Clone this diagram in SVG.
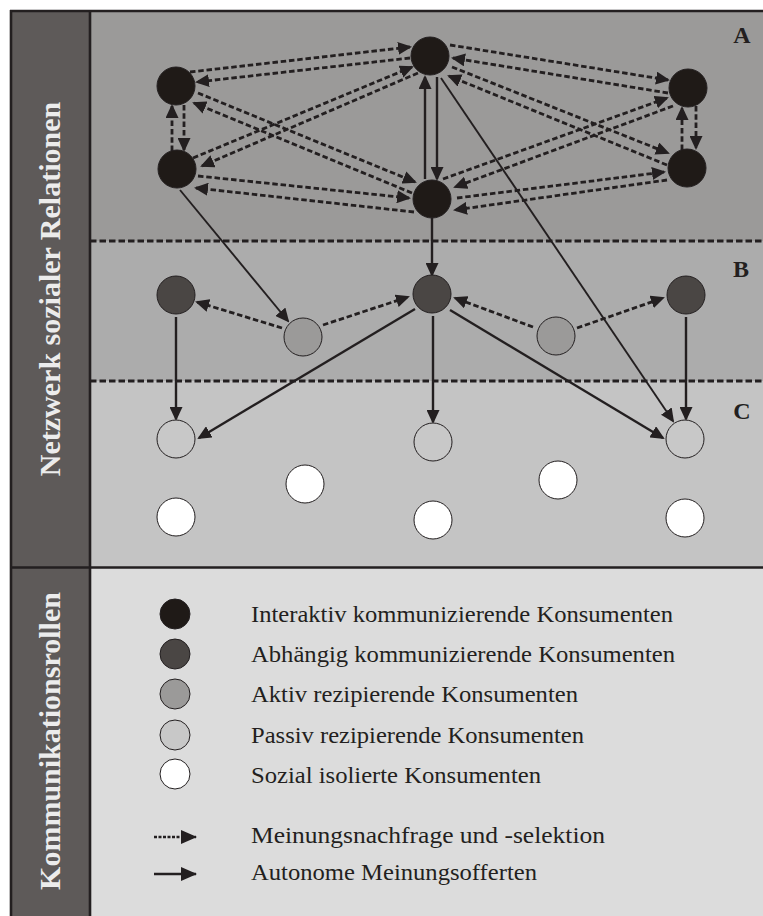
<svg xmlns="http://www.w3.org/2000/svg" width="763" height="916" viewBox="0 0 763 916">
  <style>
    .dash { fill: none; stroke: #231f20; stroke-width: 2.8; stroke-dasharray: 5.5 2.8; marker-end: url(#head); }
    .solid { fill: none; stroke: #231f20; stroke-width: 2.4; marker-end: url(#head); }
    .thin { fill: none; stroke: #231f20; stroke-width: 1.9; marker-end: url(#head); }
    .band { fill: none; stroke: #231f20; stroke-width: 3; stroke-dasharray: 6.5 3; }
    .frame { fill: none; stroke: #231f20; stroke-width: 2.6; }
    .n1 { fill: #1f1a17; stroke: #231f20; stroke-width: 1; }
    .n2 { fill: #4a4644; stroke: #231f20; stroke-width: 1; }
    .n3 { fill: #9b9a99; stroke: #231f20; stroke-width: 1; }
    .n4 { fill: #c8c8c8; stroke: #231f20; stroke-width: 1; }
    .n5 { fill: #ffffff; stroke: #231f20; stroke-width: 1; }
    .side { font-family: "Liberation Serif", "Times New Roman", serif; font-weight: bold; font-size: 30px; fill: #ececec; text-anchor: middle; }
    .zone { font-family: "Liberation Serif", "Times New Roman", serif; font-weight: bold; font-size: 24px; fill: #231f20; text-anchor: middle; }
    .key { font-family: "Liberation Serif", "Times New Roman", serif; font-size: 24px; fill: #231f20; }
  </style>
  <defs>
    <marker id="head" markerUnits="userSpaceOnUse" markerWidth="14" markerHeight="13" refX="12" refY="6.5" orient="auto">
      <path d="M0,0 L14,6.5 L0,13 z" fill="#231f20"/>
    </marker>
    <marker id="keyhead" markerUnits="userSpaceOnUse" markerWidth="16" markerHeight="14" refX="15" refY="7" orient="auto">
      <path d="M0,0 L16,7 L0,14 z" fill="#231f20"/>
    </marker>
  </defs>

  <!-- backgrounds -->
  <rect x="0" y="0" width="763" height="916" fill="#ffffff"/>
  <rect x="90" y="11" width="673" height="230" fill="#9b9a99"/>
  <rect x="90" y="241" width="673" height="140" fill="#acacac"/>
  <rect x="90" y="381" width="673" height="186" fill="#c4c4c4"/>
  <rect x="90" y="567" width="673" height="349" fill="#dcdcdc"/>
  <rect x="11" y="11" width="79" height="905" fill="#5e5a59"/>

  <!-- frame -->
  <g id="frame">
    <line class="frame" x1="10" y1="11" x2="763" y2="11"/>
    <line class="frame" x1="11" y1="10" x2="11" y2="916"/>
    <line class="frame" x1="90" y1="11" x2="90" y2="916"/>
    <line class="frame" x1="11" y1="567.5" x2="763" y2="567.5" stroke-width="3"/>
    <line class="band" x1="90" y1="241" x2="763" y2="241"/>
    <line class="band" x1="90" y1="381" x2="763" y2="381"/>
  </g>

  <!-- side titles -->
  <text class="side" transform="translate(60,289) rotate(-90)">Netzwerk sozialer Relationen</text>
  <text class="side" transform="translate(60,741) rotate(-90)">Kommunikationsrollen</text>

  <!-- zone letters -->
  <text class="zone" x="742" y="43">A</text>
  <text class="zone" x="741" y="277">B</text>
  <text class="zone" x="742" y="419">C</text>

  <!-- connectors -->
  <g id="connectors">
    <!-- zone A: opinion requests between interactive consumers -->
    <line class="dash" x1="190" y1="72" x2="410" y2="47"/>
    <line class="dash" x1="410" y1="58" x2="197" y2="82"/>
    <line class="dash" x1="198" y1="93" x2="415" y2="182"/>
    <line class="dash" x1="412" y1="193" x2="194" y2="103"/>
    <line class="dash" x1="193" y1="158" x2="412" y2="67"/>
    <line class="dash" x1="418" y1="73" x2="202" y2="166"/>
    <line class="dash" x1="198" y1="176" x2="409" y2="198"/>
    <line class="dash" x1="414" y1="212" x2="196" y2="188"/>
    <line class="dash" x1="172" y1="151" x2="172" y2="106"/>
    <line class="dash" x1="184" y1="105" x2="184" y2="150"/>
    <line class="dash" x1="450" y1="45" x2="668" y2="80"/>
    <line class="dash" x1="668" y1="93" x2="453" y2="58"/>
    <line class="dash" x1="452" y1="67" x2="668" y2="153"/>
    <line class="dash" x1="667" y1="165" x2="449" y2="76"/>
    <line class="dash" x1="443" y1="179" x2="667" y2="98"/>
    <line class="dash" x1="673" y1="106" x2="455" y2="187"/>
    <line class="dash" x1="457" y1="198" x2="664" y2="172"/>
    <line class="dash" x1="667" y1="180" x2="455" y2="210"/>
    <line class="dash" x1="682" y1="150" x2="682" y2="108"/>
    <line class="dash" x1="696" y1="106" x2="696" y2="148"/>
    <line class="solid" x1="425" y1="179" x2="425" y2="77"/>
    <line class="solid" x1="437" y1="77" x2="437" y2="179"/>
    <line class="thin" x1="441" y1="78" x2="673" y2="421"/>
    <line class="thin" x1="180" y1="190" x2="288" y2="321"/>
    <line class="solid" x1="432" y1="218" x2="432" y2="275"/>
    <!-- zone B -->
    <line class="dash" x1="282" y1="328" x2="197" y2="302"/>
    <line class="dash" x1="323" y1="325" x2="408" y2="297"/>
    <line class="dash" x1="533" y1="327" x2="455" y2="298"/>
    <line class="dash" x1="577" y1="328" x2="663" y2="298"/>
    <line class="solid" x1="176" y1="317" x2="176" y2="419"/>
    <line class="solid" x1="433" y1="316" x2="433" y2="422"/>
    <line class="solid" x1="686" y1="317" x2="686" y2="419"/>
    <line class="solid" x1="415" y1="309" x2="199" y2="438"/>
    <line class="solid" x1="450" y1="310" x2="663" y2="438"/>
  </g>

  <!-- zone A nodes -->
  <g id="a1"><circle class="n1" cx="176" cy="86" r="19"/></g>
  <g id="a2"><circle class="n1" cx="177" cy="169" r="19"/></g>
  <g id="a3"><circle class="n1" cx="430" cy="56" r="19"/></g>
  <g id="a4"><circle class="n1" cx="432" cy="199" r="19"/></g>
  <g id="a5"><circle class="n1" cx="688" cy="88" r="19"/></g>
  <g id="a6"><circle class="n1" cx="687" cy="168" r="19"/></g>

  <!-- zone B nodes -->
  <g id="b1"><circle class="n2" cx="176" cy="295" r="19"/></g>
  <g id="b2"><circle class="n3" cx="303" cy="337" r="19"/></g>
  <g id="b3"><circle class="n2" cx="432" cy="294" r="19"/></g>
  <g id="b4"><circle class="n3" cx="556" cy="336" r="19"/></g>
  <g id="b5"><circle class="n2" cx="686" cy="295" r="19"/></g>

  <!-- zone C nodes -->
  <g id="c1"><circle class="n4" cx="176" cy="439" r="19"/></g>
  <g id="c2"><circle class="n4" cx="433" cy="442" r="19"/></g>
  <g id="c3"><circle class="n4" cx="685" cy="439" r="19"/></g>
  <g id="c4"><circle class="n5" cx="305" cy="484" r="19"/></g>
  <g id="c5"><circle class="n5" cx="558" cy="480" r="19"/></g>
  <g id="c6"><circle class="n5" cx="176" cy="517" r="19"/></g>
  <g id="c7"><circle class="n5" cx="433" cy="520" r="19"/></g>
  <g id="c8"><circle class="n5" cx="685" cy="518" r="19"/></g>

  <!-- key -->
  <g id="key">
    <circle class="n1" cx="175" cy="614" r="15"/>
    <circle class="n2" cx="175" cy="654" r="15"/>
    <circle class="n3" cx="175" cy="694" r="15"/>
    <circle class="n4" cx="175" cy="735" r="15"/>
    <circle class="n5" cx="175" cy="774" r="15"/>
    <line x1="154" y1="837" x2="196" y2="837" stroke="#231f20" stroke-width="2.5" stroke-dasharray="3 1.5" marker-end="url(#keyhead)"/>
    <line x1="154" y1="874" x2="196" y2="874" stroke="#231f20" stroke-width="2.5" marker-end="url(#keyhead)"/>
    <text class="key" x="251" y="622" textLength="422" lengthAdjust="spacingAndGlyphs">Interaktiv kommunizierende Konsumenten</text>
    <text class="key" x="251" y="662" textLength="424" lengthAdjust="spacingAndGlyphs">Abhängig kommunizierende Konsumenten</text>
    <text class="key" x="251" y="702" textLength="327" lengthAdjust="spacingAndGlyphs">Aktiv rezipierende Konsumenten</text>
    <text class="key" x="251" y="743" textLength="333" lengthAdjust="spacingAndGlyphs">Passiv rezipierende Konsumenten</text>
    <text class="key" x="251" y="783" textLength="290" lengthAdjust="spacingAndGlyphs">Sozial isolierte Konsumenten</text>
    <text class="key" x="251" y="843" textLength="354" lengthAdjust="spacingAndGlyphs">Meinungsnachfrage und -selektion</text>
    <text class="key" x="251" y="880" textLength="286" lengthAdjust="spacingAndGlyphs">Autonome Meinungsofferten</text>
  </g>
</svg>
